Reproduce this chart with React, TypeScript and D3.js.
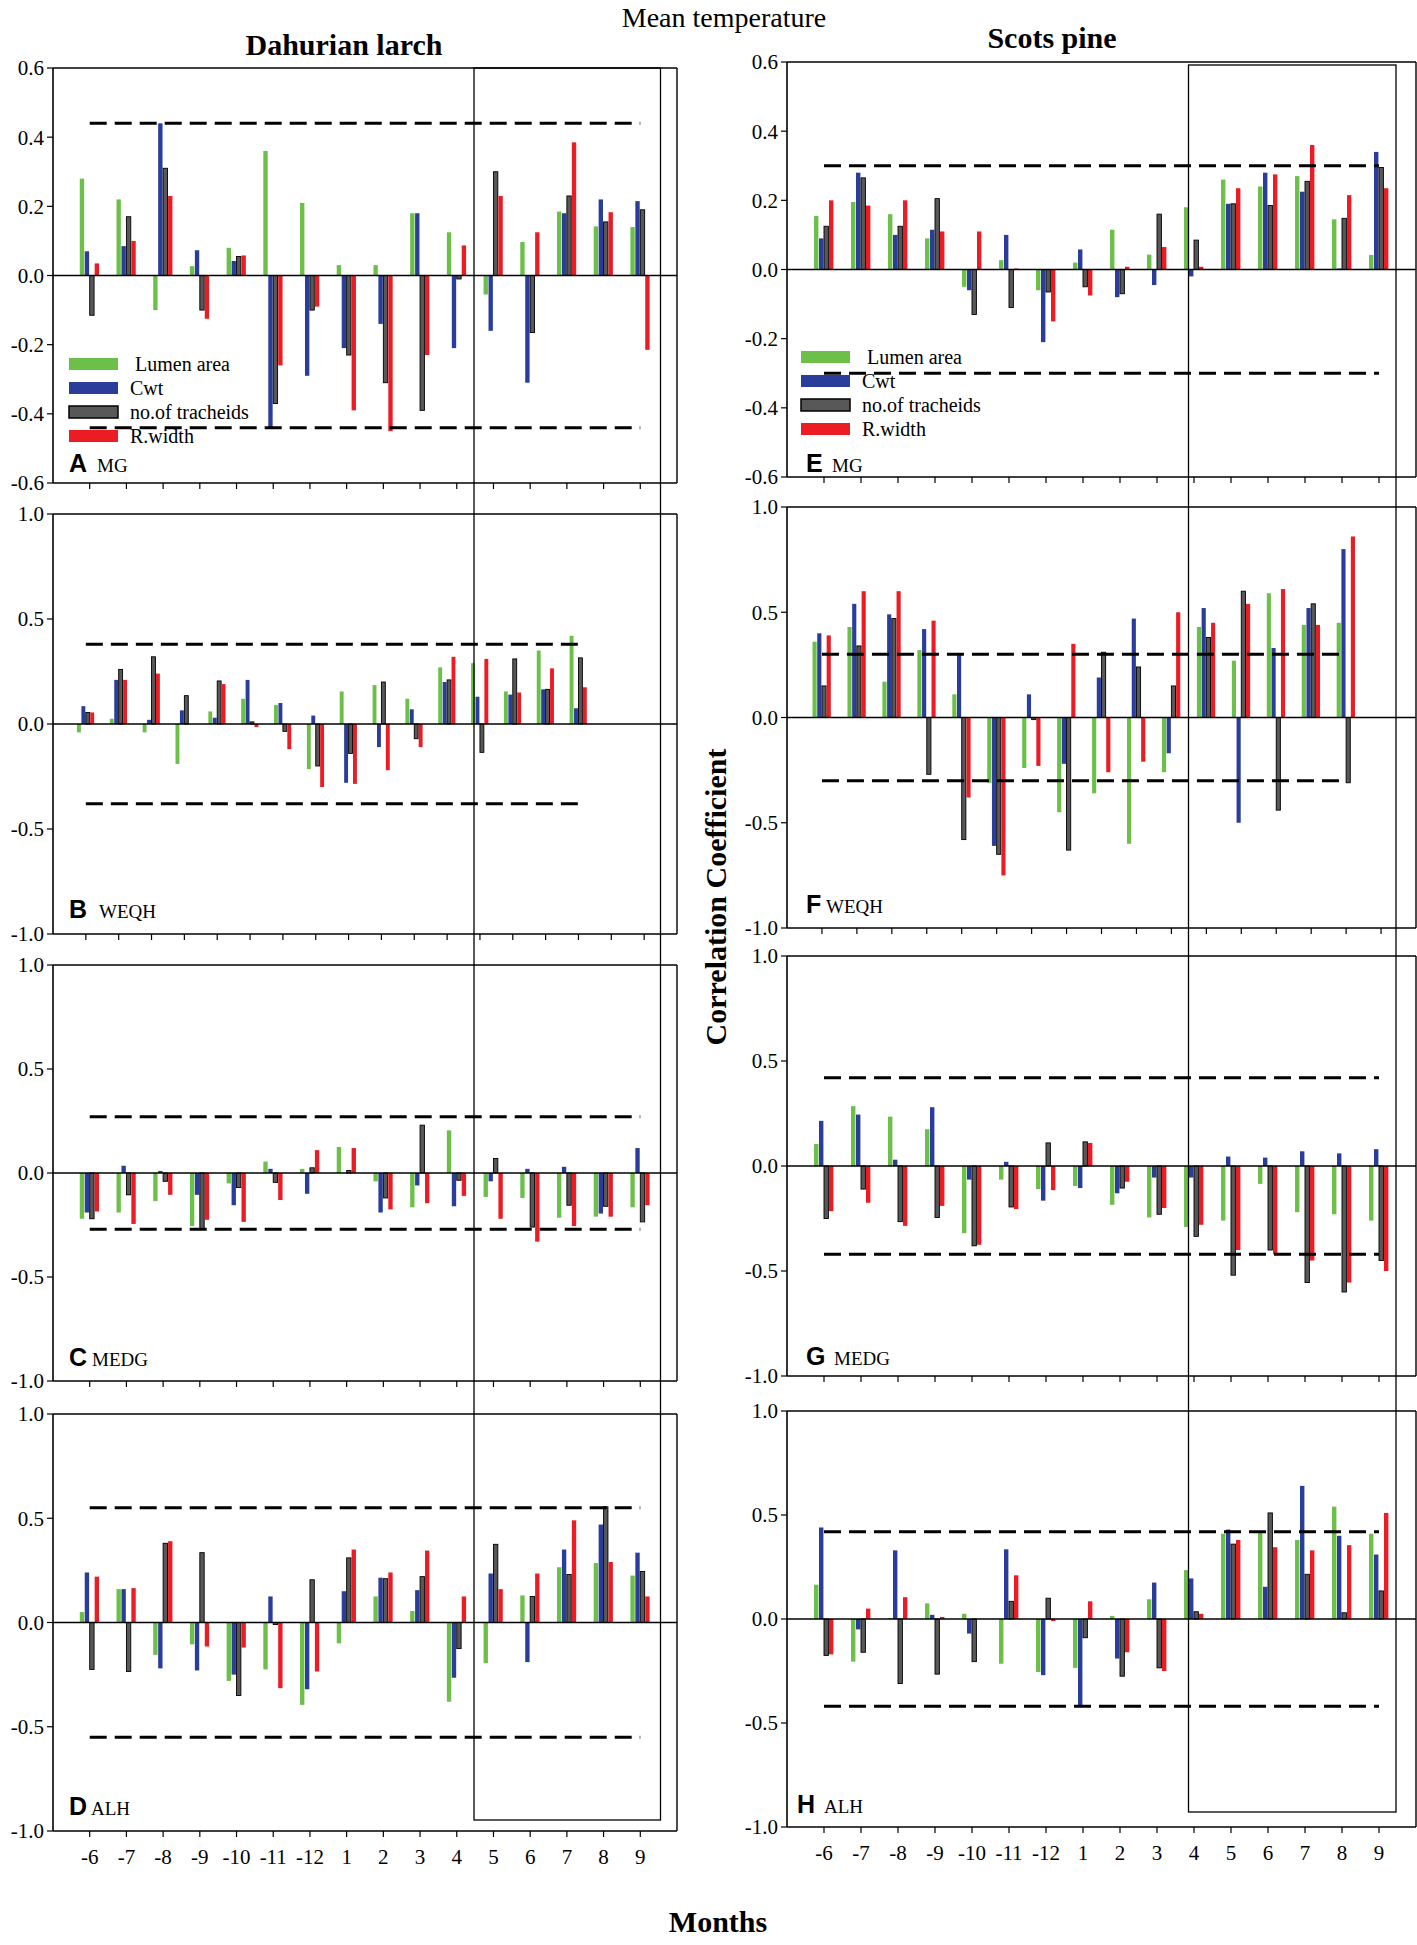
import * as d3 from 'd3';

// months on the x axis
const months = ['-6', '-7', '-8', '-9', '-10', '-11', '-12', '1', '2', '3', '4', '5', '6', '7', '8', '9'];
const seriesNames = ['Lumen area', 'Cwt', 'no.of tracheids', 'R.width'];
const seriesFill = ['#6cc04a', '#2b3d9b', '#585858', '#ec1c24'];
const seriesStroke = ['none', 'none', '#000', 'none'];

const ticksSmall = [-0.6, -0.4, -0.2, 0, 0.2, 0.4, 0.6];
const ticksLarge = [-1, -0.5, 0, 0.5, 1];

// Dahurian larch
const A_lumen = [0.28, 0.22, -0.1, 0.027, 0.08, 0.36, 0.21, 0.03, 0.03, 0.18, 0.125, -0.055, 0.097, 0.185, 0.142, 0.14];
const A_cwt = [0.07, 0.085, 0.44, 0.073, 0.042, -0.44, -0.29, -0.21, -0.14, 0.18, -0.21, -0.16, -0.31, 0.18, 0.22, 0.215];
const A_trach = [-0.115, 0.17, 0.31, -0.1, 0.055, -0.37, -0.1, -0.23, -0.31, -0.39, -0.01, 0.3, -0.165, 0.23, 0.155, 0.19];
const A_rw = [0.035, 0.1, 0.23, -0.125, 0.058, -0.26, -0.09, -0.39, -0.45, -0.23, 0.087, 0.23, 0.125, 0.385, 0.183, -0.215];

const B_lumen = [-0.04, 0.025, -0.04, -0.19, 0.06, 0.12, 0.09, -0.215, 0.155, 0.185, 0.12, 0.27, 0.29, 0.155, 0.35, 0.42];
const B_cwt = [0.085, 0.21, 0.02, 0.065, 0.03, 0.21, 0.1, 0.04, -0.28, -0.11, 0.07, 0.2, 0.13, 0.14, 0.165, 0.075];
const B_trach = [0.055, 0.26, 0.32, 0.135, 0.205, 0.01, -0.035, -0.2, -0.14, 0.2, -0.07, 0.21, -0.135, 0.31, 0.165, 0.315];
const B_rw = [0.055, 0.21, 0.24, 0, 0.19, -0.015, -0.12, -0.3, -0.285, -0.22, -0.11, 0.32, 0.31, 0.15, 0.265, 0.175];

const C_lumen = [-0.22, -0.19, -0.135, -0.255, -0.05, 0.055, 0.02, 0.125, -0.04, -0.165, 0.205, -0.115, -0.12, -0.215, -0.21, -0.165];
const C_cwt = [-0.19, 0.035, 0.01, -0.105, -0.155, 0.02, -0.1, 0, -0.19, -0.06, -0.16, -0.04, 0.02, 0.03, -0.195, 0.12];
const C_trach = [-0.22, -0.105, -0.04, -0.27, -0.07, -0.045, 0.025, 0.012, -0.12, 0.23, -0.035, 0.07, -0.26, -0.155, -0.16, -0.235];
const C_rw = [-0.185, -0.245, -0.105, -0.225, -0.235, -0.13, 0.11, 0.12, -0.175, -0.145, -0.11, -0.22, -0.33, -0.255, -0.21, -0.155];

const D_lumen = [0.05, 0.16, -0.155, -0.105, -0.28, -0.225, -0.395, -0.1, 0.125, 0.055, -0.38, -0.195, 0.13, 0.265, 0.285, 0.225];
const D_cwt = [0.24, 0.16, -0.22, -0.23, -0.25, 0.125, -0.32, 0.15, 0.215, 0.155, -0.265, 0.235, -0.19, 0.35, 0.47, 0.335];
const D_trach = [-0.225, -0.235, 0.38, 0.335, -0.35, -0.01, 0.205, 0.31, 0.21, 0.22, -0.125, 0.375, 0.125, 0.23, 0.555, 0.245];
const D_rw = [0.22, 0.165, 0.39, -0.115, -0.12, -0.315, -0.235, 0.35, 0.24, 0.345, 0.125, 0.16, 0.235, 0.49, 0.29, 0.125];

// Scots pine
const E_lumen = [0.155, 0.195, 0.16, 0.09, -0.05, 0.027, -0.06, 0.02, 0.115, 0.043, 0.18, 0.26, 0.24, 0.27, 0.145, 0.042];
const E_cwt = [0.09, 0.28, 0.1, 0.115, -0.06, 0.1, -0.21, 0.058, -0.08, -0.045, -0.02, 0.19, 0.28, 0.225, 0.003, 0.34];
const E_trach = [0.125, 0.265, 0.125, 0.205, -0.13, -0.11, -0.065, -0.05, -0.07, 0.16, 0.085, 0.19, 0.185, 0.255, 0.148, 0.295];
const E_rw = [0.2, 0.185, 0.2, 0.11, 0.11, 0.003, -0.15, -0.075, 0.008, 0.065, 0.008, 0.235, 0.275, 0.36, 0.215, 0.235];

const F_lumen = [0.36, 0.43, 0.17, 0.32, 0.11, -0.31, -0.24, -0.45, -0.36, -0.6, -0.26, 0.43, 0.27, 0.59, 0.44, 0.45];
const F_cwt = [0.4, 0.54, 0.49, 0.42, 0.3, -0.61, 0.11, -0.22, 0.19, 0.47, -0.17, 0.52, -0.5, 0.33, 0.52, 0.8];
const F_trach = [0.15, 0.34, 0.47, -0.27, -0.58, -0.65, -0.01, -0.63, 0.31, 0.24, 0.15, 0.38, 0.6, -0.44, 0.54, -0.31];
const F_rw = [0.39, 0.6, 0.6, 0.46, -0.38, -0.75, -0.23, 0.35, -0.26, -0.21, 0.5, 0.45, 0.54, 0.61, 0.44, 0.86];

const G_lumen = [0.105, 0.285, 0.235, 0.175, -0.32, -0.065, -0.11, -0.095, -0.185, -0.245, -0.29, -0.26, -0.085, -0.22, -0.23, -0.26];
const G_cwt = [0.215, 0.245, 0.03, 0.28, -0.065, 0.02, -0.165, -0.105, -0.13, -0.055, -0.055, 0.045, 0.04, 0.07, 0.06, 0.08];
const G_trach = [-0.25, -0.11, -0.265, -0.245, -0.38, -0.195, 0.11, 0.115, -0.105, -0.23, -0.335, -0.52, -0.4, -0.555, -0.6, -0.45];
const G_rw = [-0.215, -0.175, -0.285, -0.19, -0.375, -0.205, -0.115, 0.11, -0.075, -0.2, -0.28, -0.4, -0.42, -0.45, -0.555, -0.5];

const H_lumen = [0.165, -0.205, 0.005, 0.075, 0.025, -0.215, -0.255, -0.235, 0.015, 0.095, 0.235, 0.41, 0.42, 0.38, 0.54, 0.41];
const H_cwt = [0.44, -0.05, 0.33, 0.02, -0.07, 0.335, -0.27, -0.42, -0.19, 0.175, 0.195, 0.43, 0.155, 0.64, 0.4, 0.31];
const H_trach = [-0.175, -0.16, -0.31, -0.265, -0.205, 0.085, 0.1, -0.09, -0.275, -0.235, 0.035, 0.36, 0.51, 0.215, 0.03, 0.135];
const H_rw = [-0.17, 0.05, 0.105, 0.01, 0, 0.21, -0.01, 0.085, -0.16, -0.25, 0.025, 0.38, 0.345, 0.33, 0.355, 0.51];

// significance thresholds (dashed lines)
const thresholds = { A: 0.44, B: 0.38, C: 0.27, D: 0.55, E: 0.3, F: 0.3, G: 0.42, H: 0.42 };

const serif = '"Liberation Serif", "Times New Roman", serif';
const sans = '"Liberation Sans", Arial, sans-serif';

type Panel = {
  id: 'A' | 'B' | 'C' | 'D' | 'E' | 'F' | 'G' | 'H';
  site: string;
  series: number[][];
  left: number;
  right: number;
  top: number;
  bottom: number;
  yMax: number;
  ticks: number[];
  slots: number; // x domain [0, slots]
  nTicks: number;
  labels?: boolean;
  legend?: { x: number; y: number };
  letterX: number;
  siteX: number;
  letterY: number;
};

const LX0 = 53;
const LX1 = 677;
const RX0 = 787;
const RX1 = 1416;

const panels: Panel[] = [
  { id: 'A', site: 'MG', series: [A_lumen, A_cwt, A_trach, A_rw], left: LX0, right: LX1, top: 68, bottom: 483, yMax: 0.6, ticks: ticksSmall, slots: 17, nTicks: 16, legend: { x: 69, y: 364 }, letterX: 69, siteX: 97, letterY: 472 },
  { id: 'B', site: 'WEQH', series: [B_lumen, B_cwt, B_trach, B_rw], left: LX0, right: LX1, top: 514, bottom: 934, yMax: 1, ticks: ticksLarge, slots: 19, nTicks: 18, letterX: 69, siteX: 99, letterY: 918 },
  { id: 'C', site: 'MEDG', series: [C_lumen, C_cwt, C_trach, C_rw], left: LX0, right: LX1, top: 965, bottom: 1381, yMax: 1, ticks: ticksLarge, slots: 17, nTicks: 16, letterX: 69, siteX: 92, letterY: 1366 },
  { id: 'D', site: 'ALH', series: [D_lumen, D_cwt, D_trach, D_rw], left: LX0, right: LX1, top: 1414, bottom: 1831, yMax: 1, ticks: ticksLarge, slots: 17, nTicks: 16, labels: true, letterX: 69, siteX: 91, letterY: 1815 },
  { id: 'E', site: 'MG', series: [E_lumen, E_cwt, E_trach, E_rw], left: RX0, right: RX1, top: 62, bottom: 477, yMax: 0.6, ticks: ticksSmall, slots: 17, nTicks: 16, legend: { x: 801, y: 357 }, letterX: 806, siteX: 832, letterY: 472 },
  { id: 'F', site: 'WEQH', series: [F_lumen, F_cwt, F_trach, F_rw], left: RX0, right: RX1, top: 507, bottom: 928, yMax: 1, ticks: ticksLarge, slots: 18, nTicks: 17, letterX: 806, siteX: 826, letterY: 913 },
  { id: 'G', site: 'MEDG', series: [G_lumen, G_cwt, G_trach, G_rw], left: RX0, right: RX1, top: 956, bottom: 1376, yMax: 1, ticks: ticksLarge, slots: 17, nTicks: 16, letterX: 806, siteX: 834, letterY: 1365 },
  { id: 'H', site: 'ALH', series: [H_lumen, H_cwt, H_trach, H_rw], left: RX0, right: RX1, top: 1411, bottom: 1827, yMax: 1, ticks: ticksLarge, slots: 17, nTicks: 16, labels: true, letterX: 797, siteX: 824, letterY: 1813 },
];

const PanelChart = ({ p }: { p: Panel }) => {
  const x = d3.scaleLinear().domain([0, p.slots]).range([p.left, p.right]);
  const y = d3.scaleLinear().domain([-p.yMax, p.yMax]).range([p.bottom, p.top]);
  const step = x(1) - x(0);
  const groupW = step * 0.54;
  const barW = groupW / 4;
  const tickIdx = d3.range(1, p.nTicks + 1);
  const thr = thresholds[p.id];

  return (
    <g>
      {/* bars */}
      {p.series.map((vals, s) =>
        vals.map((v, i) => {
          const cx = x(i + 1);
          const bx = cx - groupW / 2 + s * barW;
          const y0 = y(0);
          const yv = y(v);
          return (
            <rect
              key={`${s}-${i}`}
              x={bx}
              y={Math.min(y0, yv)}
              width={barW * 0.88}
              height={Math.abs(yv - y0)}
              fill={seriesFill[s]}
              stroke={seriesStroke[s]}
              strokeWidth={0.9}
            />
          );
        })
      )}
      {/* zero line */}
      <line x1={p.left} x2={p.right} y1={y(0)} y2={y(0)} stroke="#000" strokeWidth={1.4} />
      {/* dashed significance lines */}
      {[thr, -thr].map((t) => (
        <line key={t} x1={x(1)} x2={x(16)} y1={y(t)} y2={y(t)} stroke="#000" strokeWidth={3} strokeDasharray="17 8" />
      ))}
      {/* frame */}
      <line x1={p.left} x2={p.right} y1={p.top} y2={p.top} stroke="#000" strokeWidth={1.4} />
      <line x1={p.right} x2={p.right} y1={p.top} y2={p.bottom} stroke="#000" strokeWidth={1.4} />
      <line x1={p.left} x2={p.left} y1={p.top} y2={p.bottom} stroke="#000" strokeWidth={1.6} />
      <line x1={p.left} x2={p.right} y1={p.bottom} y2={p.bottom} stroke="#000" strokeWidth={1.6} />
      {/* y ticks */}
      {p.ticks.map((t) => (
        <g key={t}>
          <line x1={p.left - 6} x2={p.left} y1={y(t)} y2={y(t)} stroke="#000" strokeWidth={1.2} />
          <text x={p.left - 9} y={y(t)} dy="0.35em" textAnchor="end" fontFamily={serif} fontSize={21}>
            {t.toFixed(1)}
          </text>
        </g>
      ))}
      {/* x ticks */}
      {tickIdx.map((i) => (
        <line key={i} x1={x(i)} x2={x(i)} y1={p.bottom} y2={p.bottom + 6} stroke="#000" strokeWidth={1.2} />
      ))}
      {p.labels &&
        months.map((m, i) => (
          <text key={m} x={x(i + 1)} y={p.bottom + 33} textAnchor="middle" fontFamily={serif} fontSize={21}>
            {m}
          </text>
        ))}
      {/* panel label */}
      <text x={p.letterX} y={p.letterY} fontFamily={sans} fontWeight="bold" fontSize={25}>
        {p.id}
      </text>
      <text x={p.siteX} y={p.letterY} fontFamily={serif} fontSize={19}>
        {p.site}
      </text>
      {/* legend */}
      {p.legend &&
        seriesNames.map((n, s) => (
          <g key={n}>
            <rect
              x={p.legend!.x}
              y={p.legend!.y + s * 24 - 6}
              width={49}
              height={12}
              fill={seriesFill[s]}
              stroke={s === 2 ? '#000' : 'none'}
              strokeWidth={1.5}
            />
            <text x={p.legend!.x + 61 + (s === 0 ? 5 : 0)} y={p.legend!.y + s * 24} dy="0.35em" fontFamily={serif} fontSize={20}>
              {n}
            </text>
          </g>
        ))}
    </g>
  );
};

export default function App() {
  return (
    <svg width={1417} height={1945} style={{ position: 'absolute', left: 0, top: 0, background: '#fff' }}>
      <rect width={1417} height={1945} fill="#fff" />
      <text x={724} y={27} textAnchor="middle" fontFamily={serif} fontSize={28}>
        Mean temperature
      </text>
      <text x={344} y={55} textAnchor="middle" fontFamily={serif} fontWeight="bold" fontSize={30}>
        Dahurian larch
      </text>
      <text x={1052} y={48} textAnchor="middle" fontFamily={serif} fontWeight="bold" fontSize={30}>
        Scots pine
      </text>
      {panels.map((p) => (
        <PanelChart key={p.id} p={p} />
      ))}
      {/* highlight boxes over the growing season */}
      <rect x={474} y={68} width={186.5} height={1752} fill="none" stroke="#000" strokeWidth={1.3} />
      <rect x={1188.5} y={65} width={207.5} height={1747} fill="none" stroke="#000" strokeWidth={1.3} />
      <text
        transform="translate(726,897) rotate(-90)"
        textAnchor="middle"
        fontFamily={serif}
        fontWeight="bold"
        fontSize={30}
      >
        Correlation Coefficient
      </text>
      <text x={718} y={1932} textAnchor="middle" fontFamily={serif} fontWeight="bold" fontSize={30}>
        Months
      </text>
    </svg>
  );
}
